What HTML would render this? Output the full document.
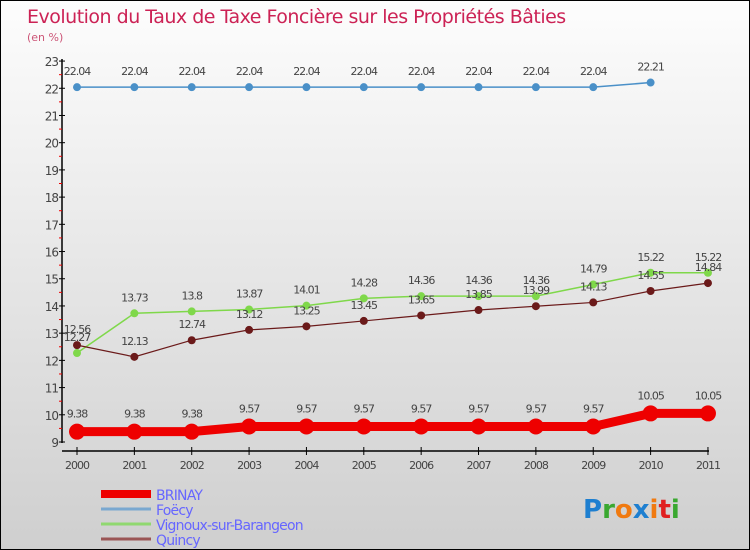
<!DOCTYPE html>
<html><head><meta charset="utf-8"><style>
body{margin:0}
#c{width:750px;height:550px;position:relative;box-sizing:border-box;border:1px solid #000;background:linear-gradient(#fdfdfd,#cfcfcf);font-family:"DejaVu Sans","Liberation Sans",sans-serif;overflow:hidden}
text{font-family:"DejaVu Sans","Liberation Sans",sans-serif}
</style></head><body>
<div id="c">
<svg id="s" width="750" height="550">
<text x="26" y="22" font-size="19" fill="#cc2255" letter-spacing="-0.5">Evolution du Taux de Taxe Foncière sur les Propriétés Bâties</text>
<text x="26" y="40" font-size="11" fill="#cc5577">(en %)</text>
</svg>
</div>
<script>
const years=[2000,2001,2002,2003,2004,2005,2006,2007,2008,2009,2010,2011];
const brinay=[9.38,9.38,9.38,9.57,9.57,9.57,9.57,9.57,9.57,9.57,10.05,10.05];
const foecy=[22.04,22.04,22.04,22.04,22.04,22.04,22.04,22.04,22.04,22.04,22.21];
const vignoux=[12.27,13.73,13.8,13.87,14.01,14.28,14.36,14.36,14.36,14.79,15.22,15.22];
const quincy=[12.56,12.13,12.74,13.12,13.25,13.45,13.65,13.85,13.99,14.13,14.55,14.84];
const yTicks=[9,10,11,12,13,14,15,16,17,18,19,20,21,22,23];
const NS="http://www.w3.org/2000/svg",s=document.getElementById('s');
const X=i=>76+i*57.36, Y=v=>441-(v-9)*27.21;
function el(t,a,p){const e=document.createElementNS(NS,t);for(const k in a)e.setAttribute(k,a[k]);(p||s).appendChild(e);return e;}
// axes
let ax=el('line',{x1:61,y1:58,x2:61,y2:442,stroke:'#000','stroke-width':1.5});


let xx=el('line',{x1:61,y1:450,x2:708,y2:450,stroke:'#000','stroke-width':1.5});


yTicks.forEach(v=>{
 el('line',{x1:58,y1:Y(v),x2:64,y2:Y(v),stroke:'#000'});
 if(v<23)el('line',{x1:58,y1:Y(v+0.5),x2:61,y2:Y(v+0.5),stroke:'#e00'});
 const t=el('text',{x:57,y:Y(v)+5,'font-size':12,'text-anchor':'end',fill:'#444','letter-spacing':-1});
 t.textContent=v;
 
 
});
years.forEach((y,i)=>{
 el('line',{x1:X(i),y1:446,x2:X(i),y2:454,stroke:'#000'});
 const t=el('text',{x:X(i),y:468,'font-size':11,'text-anchor':'middle',fill:'#444','letter-spacing':-1});
 t.textContent=y;
 
 
});
function series(d,col,w,r,name,dy){
 const g=el('g',{});
 
 
 const pl=el('polyline',{points:d.map((v,i)=>X(i)+','+Y(v)).join(' '),fill:'none',stroke:col,'stroke-width':w},g);
 
 
 d.forEach((v,i)=>{
  const c=el('circle',{cx:X(i),cy:Y(v),r:r,fill:col},g);
  
  
  const t=el('text',{x:X(i),y:Y(v)+dy,'font-size':11,'text-anchor':'middle',fill:'#444','letter-spacing':-1},g);
  t.textContent=v;
  
  
 });
}
series(foecy,'#4a90c8',1.5,4,'foecy',-12);
series(vignoux,'#7fd84a',1.5,4,'vignoux',-12);
series(quincy,'#6b1a1a',1.2,4,'quincy',-12);
series(brinay,'#ee0000',9,8,'brinay',-14);
// legend
const leg=[['BRINAY','#ee0000',8],['Foëcy','#7aa8d0',3],['Vignoux-sur-Barangeon','#90d870',3],['Quincy','#9a5555',3]];
leg.forEach((l,i)=>{
 const y=493+i*15;
 const g=el('g',{});
 
 
 el('line',{x1:100,y1:y,x2:150,y2:y,stroke:l[1],'stroke-width':l[2]},g);
 const t=el('text',{x:155,y:y+6,'font-size':14,fill:'#6666ff','letter-spacing':-0.8},g);
 t.textContent=l[0];
});
const lg=el('text',{x:582,y:517,'font-size':26,'font-weight':'bold'});


lg.innerHTML='<tspan fill="#1e7fd0">P</tspan><tspan fill="#3aa830">r</tspan><tspan fill="#f07a10">o</tspan><tspan fill="#1e7fd0">x</tspan><tspan fill="#f07a10">i</tspan><tspan fill="#e02020">t</tspan><tspan fill="#3aa830">i</tspan>';
</script>
</body></html>
